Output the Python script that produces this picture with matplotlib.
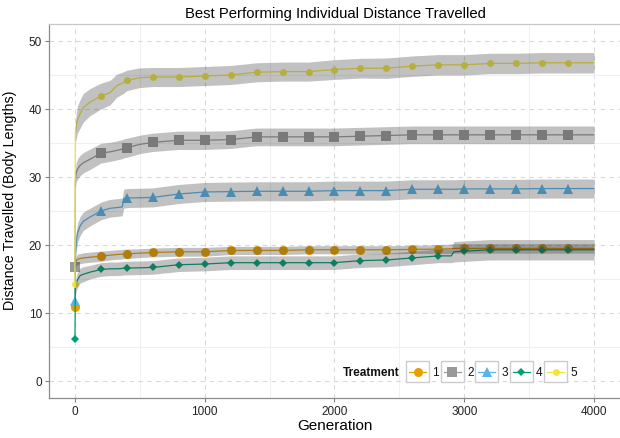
import matplotlib
matplotlib.use("Agg")
import matplotlib.pyplot as plt
from matplotlib.lines import Line2D
from matplotlib.patches import Rectangle
import numpy as np

plt.rcParams['font.family'] = ['Liberation Sans', 'DejaVu Sans']

# ---------------- data ----------------
generation = [0, 3, 10, 20, 40, 65, 115, 200, 270, 320, 365, 375, 400, 500, 600, 800,
              1000, 1200, 1400, 1600, 1800, 2000, 2200, 2400, 2600, 2800, 2900, 2920,
              3000, 3200, 3400, 3600, 3800, 4000]

treat1 = [10.9, 17.3, 17.7, 17.9, 18.0, 18.1, 18.2, 18.35, 18.5, 18.6, 18.65, 18.7, 18.7,
          18.8, 18.9, 19.0, 19.0, 19.2, 19.2, 19.2, 19.3, 19.3, 19.3, 19.3, 19.35, 19.4,
          19.45, 19.5, 19.5, 19.5, 19.5, 19.5, 19.5, 19.5]
treat2 = [16.7, 29.5, 30.7, 31.2, 31.7, 32.1, 32.6, 33.5, 33.7, 33.9, 34.1, 34.2, 34.3,
          34.8, 35.1, 35.4, 35.4, 35.5, 35.9, 35.9, 35.9, 35.9, 36.0, 36.1, 36.2, 36.2,
          36.2, 36.2, 36.2, 36.2, 36.2, 36.2, 36.2, 36.2]
treat3 = [11.7, 18.5, 20.5, 21.8, 22.8, 23.5, 24.1, 25.0, 25.4, 25.5, 25.6, 26.8, 26.9,
          26.95, 27.0, 27.5, 27.8, 27.85, 27.9, 27.9, 27.9, 28.0, 28.0, 28.0, 28.2, 28.2,
          28.2, 28.2, 28.25, 28.25, 28.25, 28.3, 28.3, 28.3]
treat4 = [6.2, 13.6, 14.3, 14.9, 15.5, 15.7, 16.0, 16.4, 16.5, 16.5, 16.55, 16.6, 16.6,
          16.65, 16.7, 17.1, 17.2, 17.4, 17.4, 17.4, 17.4, 17.4, 17.7, 17.8, 18.1, 18.4,
          18.4, 19.0, 19.1, 19.3, 19.3, 19.3, 19.3, 19.3]
treat5 = [14.3, 36.5, 37.5, 38.5, 39.3, 40.2, 41.0, 41.9, 42.4, 43.4, 43.8, 43.9, 44.2,
          44.6, 44.7, 44.7, 44.85, 45.0, 45.4, 45.5, 45.5, 45.8, 46.0, 46.0, 46.3, 46.5,
          46.5, 46.5, 46.5, 46.7, 46.7, 46.8, 46.8, 46.8]

# ribbon half-widths
band1 = [0.1, 0.7, 0.7, 0.75, 0.75, 0.75, 0.75, 0.75, 0.7, 0.7, 0.7, 0.7, 0.7, 0.65, 0.65,
         0.65, 0.65, 0.6, 0.6, 0.6, 0.6, 0.6, 0.6, 0.6, 0.6, 0.65, 0.7, 0.7, 0.7, 0.7,
         0.7, 0.7, 0.7, 0.7]
band2 = [0.6, 1.3, 1.4, 1.5, 1.5, 1.5, 1.5, 1.45, 1.4, 1.4, 1.4, 1.4, 1.4, 1.35, 1.35,
         1.35, 1.35, 1.3, 1.3, 1.3, 1.3, 1.3, 1.3, 1.3, 1.3, 1.3, 1.3, 1.3, 1.3, 1.3,
         1.3, 1.3, 1.3, 1.3]
band3 = [0.1, 1.3, 1.4, 1.4, 1.4, 1.35, 1.3, 1.3, 1.3, 1.3, 1.3, 1.4, 1.4, 1.4, 1.4,
         1.4, 1.4, 1.4, 1.4, 1.4, 1.4, 1.4, 1.4, 1.4, 1.4, 1.4, 1.4, 1.4, 1.4, 1.4,
         1.4, 1.4, 1.4, 1.4]
band4 = [0.1, 1.0, 1.1, 1.1, 1.1, 1.1, 1.0, 1.0, 1.0, 1.0, 1.0, 1.0, 1.0, 1.0, 1.0,
         1.0, 1.0, 1.0, 1.0, 1.0, 1.0, 1.0, 1.0, 1.0, 1.0, 1.0, 1.0, 1.5, 1.5, 1.5,
         1.5, 1.5, 1.5, 1.5]
band5 = [0.1, 1.5, 1.8, 2.0, 2.1, 2.1, 2.0, 1.9, 1.8, 1.7, 1.6, 1.6, 1.5, 1.45, 1.4,
         1.4, 1.4, 1.4, 1.4, 1.4, 1.4, 1.45, 1.45, 1.5, 1.5, 1.5, 1.5, 1.5, 1.5, 1.5,
         1.5, 1.5, 1.5, 1.5]

labels = ["1", "2", "3", "4", "5"]
series = [treat1, treat2, treat3, treat4, treat5]
bands = [band1, band2, band3, band4, band5]
colors = ["#E69F00", "#999999", "#56B4E9", "#009E73", "#F0E442"]
markers = ["o", "s", "^", "D", "o"]
msizes = [6.5, 6.5, 7.0, 4.2, 5.0]

xticks = [0, 1000, 2000, 3000, 4000]
yticks = [0, 10, 20, 30, 40, 50]

# ---------------- figure ----------------
W, H = 620, 439
fig = plt.figure(figsize=(W / 100, H / 100), dpi=100)
ax = fig.add_axes([49 / W, 1 - 399 / H, (620 - 49) / W, (399 - 25) / H])

gen = np.array(generation)
mark_idx = [i for i, g in enumerate(generation) if g % 200 == 0 and g < 4000]

for vals, hw, c, m, ms in zip(series, bands, colors, markers, msizes):
    v = np.array(vals)
    h = np.array(hw)
    ax.plot(gen, v, color=c, lw=0.9, marker=m, ms=ms, markevery=mark_idx,
            markeredgewidth=0, zorder=3)
    ax.fill_between(gen, v - h, v + h, color="#333333", alpha=0.3, lw=0, zorder=4)

ax.set_xlim(-200, 4200)
ax.set_ylim(-2.5, 52.5)
ax.set_xticks(xticks)
ax.set_yticks(yticks)
ax.set_xticks([500, 1500, 2500, 3500], minor=True)
ax.set_yticks([5, 15, 25, 35, 45], minor=True)
ax.grid(True, which="major", color="#d9d9d9", lw=0.8, ls=(0, (4, 4)), zorder=0)
ax.grid(True, which="minor", color="#f0f0f0", lw=0.8, zorder=0)
ax.set_axisbelow(True)
ax.tick_params(which="major", length=3, width=0.8, color="#7f7f7f",
               labelsize=8.5, labelcolor="#222222", pad=2)
ax.tick_params(which="minor", length=0)
for s in ["left", "bottom", "top"]:
    ax.spines[s].set_color("#8c8c8c")
    ax.spines[s].set_linewidth(0.9)
ax.spines["top"].set_color("#c8c8c8")
ax.spines["right"].set_visible(False)

ax.set_xlabel("Generation", fontsize=11, labelpad=1)
ax.set_ylabel("Distance Travelled (Body Lengths)", fontsize=10.3)
ax.yaxis.set_label_coords((17 - 49) / 571, (399 - 200.5) / 374)
fig.text(335.5 / W, 1 - 14 / H, "Best Performing Individual Distance Travelled",
         ha="center", va="center", fontsize=10.7)

# ---------------- legend (manual, horizontal) ----------------
def fx(px):
    return px / W

def fy(py):
    return 1 - py / H

fig.text(fx(343), fy(373), "Treatment", ha="left", va="center",
         fontsize=8.6, fontweight="bold", color="#111111")
box_left = [406, 440.5, 475, 509.5, 544]
for bl, lab, c, m, ms in zip(box_left, labels, colors, markers, msizes):
    fig.add_artist(Rectangle((fx(bl), fy(383)), 23 / W, 21 / H,
                             transform=fig.transFigure, facecolor="white",
                             edgecolor="#cccccc", lw=1.0, zorder=10))
    fig.add_artist(Line2D([fx(bl + 3), fx(bl + 20)], [fy(372.5), fy(372.5)],
                          transform=fig.transFigure, color=c, lw=0.9, zorder=11))
    fig.add_artist(Line2D([fx(bl + 11.5)], [fy(372.5)], transform=fig.transFigure,
                          color=c, marker=m, ms=ms, markeredgewidth=0, zorder=12))
    fig.text(fx(bl + 26.5), fy(373), lab, ha="left", va="center", fontsize=8.6,
             color="#111111", zorder=12)

fig.savefig("out.png", dpi=100)
